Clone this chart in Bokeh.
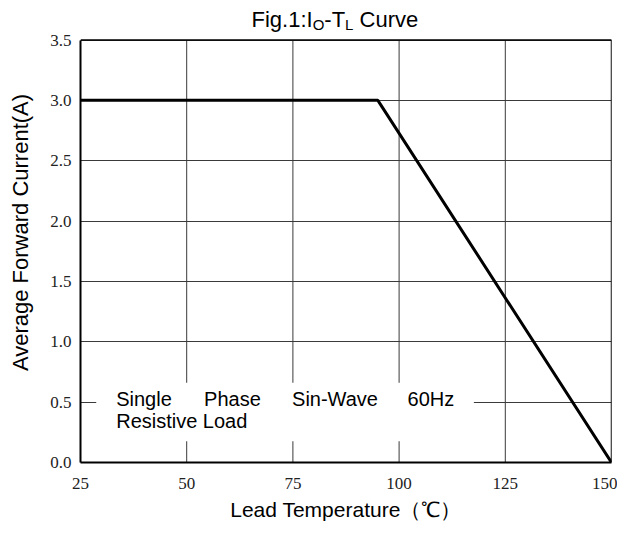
from bokeh.plotting import figure
from bokeh.models import Range1d, FixedTicker, Label, ColumnDataSource
from bokeh.core.properties import value
from bokeh.embed import file_html
from bokeh.resources import INLINE

# ---- data ----
temps = [25, 95, 150]
current = [3.0, 3.0, 0.0]
x_ticks = [25, 50, 75, 100, 125, 150]
y_ticks = [0.0, 0.5, 1.0, 1.5, 2.0, 2.5, 3.0, 3.5]
y_tick_labels = ["0.0", "0.5", "1.0", "1.5", "2.0", "2.5", "3.0", "3.5"]
note_words = ["Single", "Phase", "Sin-Wave", "60Hz", "Resistive Load"]
note_x = [33.4, 54.1, 74.8, 102.0, 33.4]
note_y = [0.53, 0.53, 0.53, 0.53, 0.34]
box_left, box_right, box_bottom, box_top = 28.7, 117.6, 0.177, 0.661

X0, X1, Y0, Y1 = 25, 150, 0.0, 3.5

SANS = "Liberation Sans"
SERIF = "Liberation Serif"

W, H = 617, 523
BL, BR, BB = 80, 6, 55
PLOT_TOP = 40          # pixel row of the y = 3.5 line
FT = 2                 # frame starts here; the space above 3.5 holds the title
fw = W - BL - BR
ph = H - BB - PLOT_TOP
ypu = ph / (Y1 - Y0)
xpu = fw / (X1 - X0)
y_top = Y1 + (PLOT_TOP - FT) / ypu

p = figure(width=W, height=H, output_backend="svg", toolbar_location=None,
           x_range=Range1d(X0, X1), y_range=Range1d(Y0, y_top),
           min_border_left=BL, min_border_right=BR, min_border_top=FT, min_border_bottom=BB)
p.title.text = ""
p.outline_line_color = None
p.background_fill_color = "white"
p.border_fill_color = "white"

GRID = "#3a3a3a"
# horizontal grid
p.ygrid.ticker = FixedTicker(ticks=y_ticks)
p.ygrid.grid_line_color = GRID
p.ygrid.grid_line_width = 1
# vertical grid limited to the plot area
p.xgrid.visible = False
p.segment(x0=x_ticks, y0=[Y0] * len(x_ticks), x1=x_ticks, y1=[Y1] * len(x_ticks),
          line_color=GRID, line_width=1)

# axes
p.xaxis.ticker = FixedTicker(ticks=x_ticks)
p.yaxis.ticker = FixedTicker(ticks=y_ticks)
p.yaxis.bounds = (Y0, Y1)
p.yaxis.major_label_overrides = {t: l for t, l in zip(y_ticks, y_tick_labels)}
for ax in (p.xaxis[0], p.yaxis[0]):
    ax.axis_line_color = "black"
    ax.axis_line_width = 2
    ax.major_tick_in = 0
    ax.major_tick_out = 0
    ax.minor_tick_in = 0
    ax.minor_tick_out = 0
    ax.major_label_text_font = SERIF
    ax.major_label_text_font_size = "17px"
    ax.major_label_text_color = "#222222"
    ax.axis_label_text_font = SANS
    ax.axis_label_text_font_size = "21px"
    ax.axis_label_text_font_style = "normal"
    ax.axis_label_text_color = "black"
p.xaxis.axis_label = "Lead Temperature（℃）"
p.yaxis.axis_label = "Average Forward Current(A)"
p.yaxis.axis_label_text_font_size = "22px"
p.xaxis.major_label_standoff = 15
p.yaxis.major_label_standoff = 9
p.xaxis.axis_label_standoff = 6
p.yaxis.axis_label_standoff = 14

# top and right border of the plot area
p.line([X0, X1, X1], [Y1, Y1, Y0], line_color="black", line_width=1.5)

# white box behind the note
p.quad(left=[box_left], right=[box_right], bottom=[box_bottom], top=[box_top],
       fill_color="white", line_color=None)

# curve
p.line(temps, current, line_color="black", line_width=3)

# note text
src = ColumnDataSource(dict(x=note_x, y=note_y, t=note_words))
p.text(x="x", y="y", text="t", source=src, text_font=value(SANS),
       text_font_size="20px", text_color="black", text_align="left",
       text_baseline="alphabetic")

# title with subscripts
big, small = 22, 15
pieces = [("Fig.1:I", big, 0), ("O", small, -5), ("-T", big, 0), ("L", small, -5), ("Curve", big, 0)]
gaps = [0, 0, 0, 0, 0.278 * big]
adv = {"F": .611, "i": .222, "g": .556, ".": .278, "1": .556, ":": .278, "I": .278,
       "O": .778, "-": .333, "T": .611, "L": .556, " ": .278, "C": .722, "u": .556,
       "r": .333, "v": .5, "e": .556}
widths = [sum(adv[c] for c in t) * s for t, s, _ in pieces]
xpx = 171.0
base = 21.0
for (t, s, dy), w, gap in zip(pieces, widths, gaps):
    xpx += gap
    p.add_layout(Label(x=X0 + xpx / xpu, y=Y1 + (base + dy) / ypu, text=t,
                       text_font=SANS, text_font_size=f"{s}px", text_color="black",
                       text_baseline="alphabetic", text_align="left"))
    xpx += w

open("out.html", "w").write(file_html(p, INLINE))
